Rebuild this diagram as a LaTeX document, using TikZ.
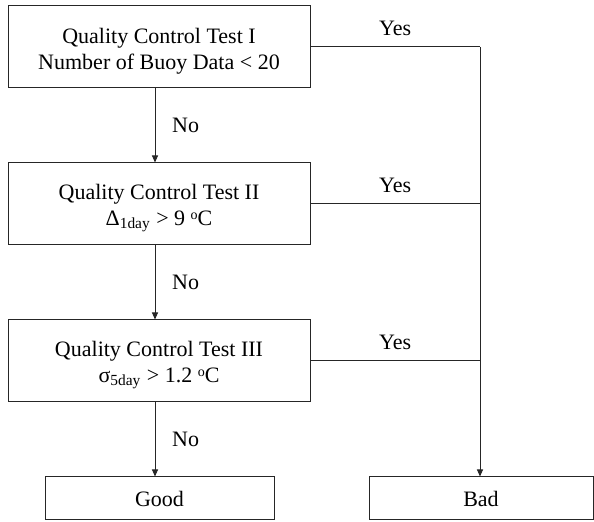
\documentclass[tikz,border=0pt]{standalone}
\usepackage{fontspec}
\setmainfont{Liberation Serif}
\usepackage{tikz}
\usetikzlibrary{arrows.meta}

\newcommand{\degc}{\raisebox{0.55ex}{\fontsize{7}{7}\selectfont o}C}

\begin{document}
\begin{tikzpicture}[x=0.5pt, y=-0.5pt, font=\fontsize{11}{12.8}\selectfont,
  testbox/.style={draw=black!85, line width=0.5pt, rectangle, minimum width=151pt, minimum height=41pt, align=center, inner sep=0pt},
  endbox/.style={draw=black!85, line width=0.5pt, rectangle, minimum height=21.5pt, inner sep=0pt},
  flow/.style={draw=black!85, line width=0.5pt, -{Triangle[length=3.5pt,width=3pt]}}]
\useasboundingbox (0,0) rectangle (594,522);

\node (test1) [testbox] at (159,47) {\rule{0pt}{12pt}Quality Control Test I\\Number of Buoy Data < 20};
\node (test2) [testbox] at (159,204) {\rule{0pt}{12pt}Quality Control Test II\\Δ\textsubscript{1day} > 9 \degc};
\node (test3) [testbox] at (159,361) {\rule{0pt}{12pt}Quality Control Test III\\σ\textsubscript{5day} > 1.2 \degc};

\node (good) [endbox, minimum width=114.5pt] at (159.5,498.5) {Good};
\node (bad) [endbox, minimum width=112pt] at (481,498.5) {Bad};

\coordinate (join) at (480,47);

% No branches
\draw[flow] ([xshift=-2pt]test1.south) -- node[right=5pt] {No} ([xshift=-2pt]test2.north);
\draw[flow] ([xshift=-2pt]test2.south) -- node[right=5pt] {No} ([xshift=-2pt]test3.north);
\draw[flow] ([xshift=-2pt]test3.south) -- node[right=5pt] {No} ([xshift=-2pt]test3.south |- good.north);

% Yes branches
\draw[draw=black!85, line width=0.5pt] (test1.east) -- node[above=2pt] {Yes} (join);
\draw[draw=black!85, line width=0.5pt] (test2.east) -- node[above=2pt] {Yes} (test2.east -| join);
\draw[draw=black!85, line width=0.5pt] (test3.east) -- node[above=2pt] {Yes} (test3.east -| join);
\draw[flow] (join) -- (join |- bad.north);
\end{tikzpicture}
\end{document}
